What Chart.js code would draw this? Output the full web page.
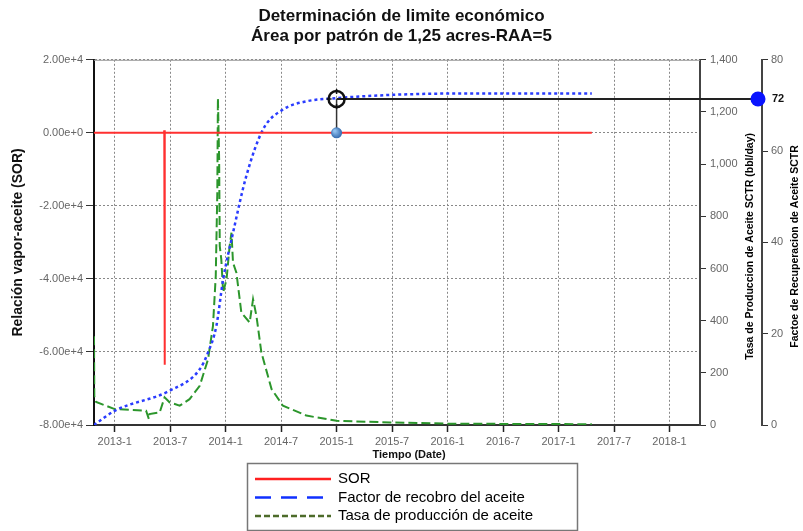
<!DOCTYPE html>
<html lang="es">
<head>
<meta charset="utf-8">
<title>Determinación de limite económico</title>
<script src="https://cdn.jsdelivr.net/npm/chart.js@4.4.1/dist/chart.umd.min.js"></script>
<style>
  html, body { margin: 0; padding: 0; background: #fff; }
</style>
</head>
<body>
<canvas id="limiteChart" width="803" height="531"></canvas>
<script>
/* DATOS */

// Fechas en formato AAAA-MM-DD, se convierten a meses desde 2013-01
const sorFechas  = ['2012-10-24', '2013-06-11', '2013-06-12', '2013-06-13', '2013-06-14', '2017-04-19'];
const sorValores = [0, 0, 700, -63500, 0, 0];

// Factor de recobro (%), eje derecho exterior 0-80
const factorFechas = ['2012-10-24', '2013-01-01', '2013-06-29', '2013-10-07', '2013-11-04', '2013-12-01',
                      '2013-12-23', '2014-01-25', '2014-03-08', '2014-05-02', '2014-07-07', '2014-09-23',
                      '2015-01-01', '2015-06-24', '2016-01-08', '2017-04-19'];
const factorValores = [0, 3.1, 7.5, 12.2, 15.9, 21.7, 31.9, 42.1, 54.5, 64.7, 69.1, 70.9, 71.6, 72.3, 72.6, 72.6];

// Tasa de producción (bbl/day), eje derecho interior 0-1400
const tasaFechas = ['2012-10-24', '2012-10-25', '2012-10-31', '2013-01-01', '2013-04-13', '2013-04-22',
                    '2013-04-24', '2013-05-27', '2013-06-13', '2013-06-29', '2013-08-02', '2013-09-04',
                    '2013-10-07', '2013-11-04', '2013-11-20', '2013-11-29', '2013-12-04', '2013-12-06',
                    '2013-12-10', '2013-12-12', '2013-12-17', '2013-12-23', '2014-01-04', '2014-01-14',
                    '2014-01-20', '2014-01-25', '2014-02-06', '2014-02-22', '2014-03-19', '2014-03-30',
                    '2014-04-11', '2014-04-27', '2014-05-30', '2014-07-07', '2014-09-23', '2015-01-01',
                    '2015-06-24', '2016-01-08', '2017-04-19'];
const tasaValores = [340, 110, 88, 61, 55, 23, 42, 48, 106, 87, 74, 99,
                     150, 252, 380, 571, 890, 1253, 1018, 686, 635, 508, 558, 686,
                     737, 622, 584, 431, 393, 482, 418, 278, 138, 74, 36, 16,
                     10, 5, 3];

// Etiquetas del eje X
const etiquetasEjeX = ['2013-1', '2013-7', '2014-1', '2014-7', '2015-1', '2015-7',
                       '2016-1', '2016-7', '2017-1', '2017-7', '2018-1'];

// Punto de límite económico marcado en el gráfico
const marcaFecha  = '2015-01-01';
const marcaFactor = 71.4;
const marcaSOR    = 0;

const tituloX      = 'Tiempo (Date)';
const tituloTasa   = 'Tasa de Produccion de Aceite SCTR (bbl/day)';
const tituloFactor = 'Factoe de Recuperacion de Aceite SCTR';

/* UTILIDADES */

// 'AAAA-M' o 'AAAA-MM-DD' -> meses desde enero 2013
function toMonths(fecha) {
  const [y, m, d = 1] = fecha.split('-').map(Number);
  return (y - 2013) * 12 + (m - 1) + (d - 1) / 30;
}

const puntos = (fechas, valores) => fechas.map((f, i) => ({ x: toMonths(f), y: valores[i] }));
const valoresEjeX = etiquetasEjeX.map(toMonths);

const FONT = "'Liberation Sans', Arial, sans-serif";
Chart.defaults.font.family = FONT;
Chart.defaults.font.size = 11;
Chart.defaults.color = '#666';

/* PLUGINS DE DIBUJO */

// Línea superior sólida del área de trazado
const bordeSuperior = {
  id: 'bordeSuperior',
  beforeDatasetsDraw(chart) {
    const { ctx, chartArea } = chart;
    ctx.save();
    ctx.strokeStyle = '#999';
    ctx.lineWidth = 1;
    ctx.beginPath();
    ctx.moveTo(chartArea.left, chartArea.top + 0.5);
    ctx.lineTo(chartArea.right, chartArea.top + 0.5);
    ctx.stroke();
    ctx.restore();
  }
};

// Títulos de los ejes derechos (de abajo hacia arriba, como el original) y del eje X
const titulosEjes = {
  id: 'titulosEjes',
  afterDraw(chart) {
    const { ctx, scales, chartArea } = chart;
    const yMid = (chartArea.top + chartArea.bottom) / 2 + 4;
    ctx.save();
    ctx.font = 'bold 10.5px ' + FONT;
    ctx.fillStyle = '#000';
    ctx.textAlign = 'center';
    ctx.textBaseline = 'middle';
    [[scales.yTasa, 12, tituloTasa], [scales.yFactor, 8, tituloFactor]].forEach(([s, off, txt]) => {
      ctx.save();
      ctx.translate(s.right - off, yMid);
      ctx.rotate(-Math.PI / 2);
      ctx.fillText(txt, 0, 0);
      ctx.restore();
    });
    // título del eje X, algo desplazado a la derecha como en el original
    ctx.font = 'bold 11px ' + FONT;
    ctx.fillStyle = '#111';
    ctx.fillText(tituloX, (chartArea.left + chartArea.right) / 2 + 12, scales.x.bottom - 7);
    ctx.restore();
  }
};

// Marcador del límite económico: círculo, guías y puntos azules
const marcaLimite = {
  id: 'marcaLimite',
  afterDraw(chart) {
    const { ctx, scales } = chart;
    const x  = scales.x.getPixelForValue(toMonths(marcaFecha));
    const yF = scales.yFactor.getPixelForValue(marcaFactor);
    const yS = scales.y.getPixelForValue(marcaSOR);
    const xEje = scales.yFactor.left;

    ctx.save();
    // guía horizontal hasta el eje del factor
    ctx.strokeStyle = '#222';
    ctx.lineWidth = 2;
    ctx.beginPath();
    ctx.moveTo(x, yF);
    ctx.lineTo(xEje, yF);
    ctx.stroke();

    // guía vertical hasta la curva SOR
    ctx.strokeStyle = '#333';
    ctx.lineWidth = 1.5;
    ctx.beginPath();
    ctx.moveTo(x, yF);
    ctx.lineTo(x, yS);
    ctx.stroke();

    // círculo tipo mira
    ctx.strokeStyle = '#111';
    ctx.lineWidth = 2.5;
    ctx.beginPath();
    ctx.arc(x, yF, 8, 0, Math.PI * 2);
    ctx.stroke();
    ctx.lineWidth = 1.5;
    ctx.beginPath();
    [[0, -1], [0, 1], [-1, 0], [1, 0]].forEach(([dx, dy]) => {
      ctx.moveTo(x + dx * 5, yF + dy * 5);
      ctx.lineTo(x + dx * 10, yF + dy * 10);
    });
    ctx.stroke();

    // esfera azul sobre SOR = 0
    const g = ctx.createRadialGradient(x - 2, yS - 2, 1, x, yS, 6);
    g.addColorStop(0, '#8fc0ef');
    g.addColorStop(1, '#2c62a8');
    ctx.fillStyle = g;
    ctx.beginPath();
    ctx.arc(x, yS, 5.5, 0, Math.PI * 2);
    ctx.fill();

    // punto sobre el eje del factor y su valor
    ctx.fillStyle = '#0a14ff';
    ctx.beginPath();
    ctx.arc(xEje - 4, yF, 7.5, 0, Math.PI * 2);
    ctx.fill();
    ctx.fillStyle = '#111';
    ctx.font = 'bold 11px ' + FONT;
    ctx.textAlign = 'left';
    ctx.textBaseline = 'middle';
    ctx.fillText(String(Math.round(marcaFactor + 0.5)), xEje + 10, yF);
    ctx.restore();
  }
};

// Leyenda con recuadro debajo del eje X
const ESTILO_LEYENDA = [
  { color: '#ff2020', dash: [],       width: 2.5 },
  { color: '#1030ff', dash: [16, 10], width: 2.5 },
  { color: '#4d6b2a', dash: [6, 3],   width: 2.5 },
];
const leyendaCaja = {
  id: 'leyendaCaja',
  afterDraw(chart) {
    const { ctx } = chart;
    const left = 247, top = 463, w = 330, h = 67;
    ctx.save();
    ctx.strokeStyle = '#777';
    ctx.lineWidth = 1.5;
    ctx.strokeRect(left + 0.5, top + 0.5, w, h);
    ctx.font = '15px ' + FONT;
    ctx.fillStyle = '#000';
    ctx.textBaseline = 'middle';
    chart.data.datasets.forEach((ds, i) => {
      const y = top + 16 + i * 18.5;
      const st = ESTILO_LEYENDA[i];
      ctx.strokeStyle = st.color;
      ctx.lineWidth = st.width;
      ctx.setLineDash(st.dash);
      ctx.beginPath();
      ctx.moveTo(left + 8, y);
      ctx.lineTo(left + 84, y);
      ctx.stroke();
      ctx.setLineDash([]);
      ctx.fillText(ds.label, left + 91, y);
    });
    ctx.restore();
  }
};

/* GRÁFICO */

const ctx = document.getElementById('limiteChart').getContext('2d');

new Chart(ctx, {
  type: 'line',
  data: {
    datasets: [
      {
        label: 'SOR',
        data: puntos(sorFechas, sorValores),
        yAxisID: 'y',
        borderColor: '#ff3030',
        borderWidth: 2,
        pointRadius: 0,
        tension: 0,
      },
      {
        label: 'Factor de recobro del aceite',
        data: puntos(factorFechas, factorValores),
        yAxisID: 'yFactor',
        borderColor: '#2a3cff',
        borderWidth: 2.5,
        borderDash: [3, 3],
        pointRadius: 0,
        cubicInterpolationMode: 'monotone',
      },
      {
        label: 'Tasa de producción de aceite',
        data: puntos(tasaFechas, tasaValores),
        yAxisID: 'yTasa',
        borderColor: '#2c962c',
        borderWidth: 2,
        borderDash: [9, 4],
        pointRadius: 0,
        tension: 0,
      },
    ],
  },
  options: {
    responsive: false,
    animation: false,
    layout: { padding: { top: 0, right: 0, bottom: 69, left: 0 } },
    plugins: {
      legend: { display: false },
      tooltip: { enabled: false },
      title: {
        display: true,
        text: ['Determinación de limite económico', 'Área por patrón de 1,25 acres-RAA=5'],
        font: { size: 17, weight: 'bold' },
        color: '#111',
        padding: { top: 6, bottom: 13 },
      },
    },
    scales: {
      x: {
        type: 'linear',
        min: toMonths('2012-10-24'),
        max: toMonths('2018-04-10'),
        afterBuildTicks: (axis) => { axis.ticks = valoresEjeX.map(v => ({ value: v })); },
        afterFit: (axis) => { axis.height = 37; },
        ticks: {
          autoSkip: false,
          maxRotation: 0,
          padding: 3,
          color: '#666',
          callback: (v) => etiquetasEjeX[valoresEjeX.indexOf(v)],
        },
        grid: { color: '#888', lineWidth: 1, tickLength: 7, tickColor: '#222', tickWidth: 1.5 },
        border: { color: '#333', width: 2, dash: [2, 2] },
      },
      y: {
        position: 'left',
        min: -80000,
        max: 20000,
        afterFit: (axis) => { axis.width = 94; },
        ticks: {
          stepSize: 20000,
          padding: 3,
          color: '#666',
          callback: (v) => Number(v).toExponential(2),
        },
        grid: { color: '#888', lineWidth: 1, tickLength: 8, tickColor: '#333' },
        border: { color: '#111', width: 2, dash: [2, 2] },
        title: {
          display: true,
          text: 'Relación vapor-aceite (SOR)',
          color: '#111',
          font: { size: 14, weight: 'bold' },
          padding: { top: 10, bottom: 0 },
        },
      },
      yTasa: {
        position: 'right',
        weight: 0,
        min: 0,
        max: 1400,
        afterFit: (axis) => { axis.width = 62; },
        ticks: {
          stepSize: 200,
          padding: 4,
          color: '#666',
          callback: (v) => Number(v).toLocaleString('en-US'),
        },
        grid: { drawOnChartArea: false, tickLength: 6, tickColor: '#333' },
        border: { color: '#444', width: 2 },
      },
      yFactor: {
        position: 'right',
        weight: 1,
        min: 0,
        max: 80,
        afterFit: (axis) => { axis.width = 41; },
        ticks: { stepSize: 20, padding: 3, color: '#666' },
        grid: { drawOnChartArea: false, tickLength: 6, tickColor: '#333' },
        border: { color: '#444', width: 2 },
      },
    },
  },
  plugins: [bordeSuperior, titulosEjes, marcaLimite, leyendaCaja],
});
</script>
</body>
</html>
